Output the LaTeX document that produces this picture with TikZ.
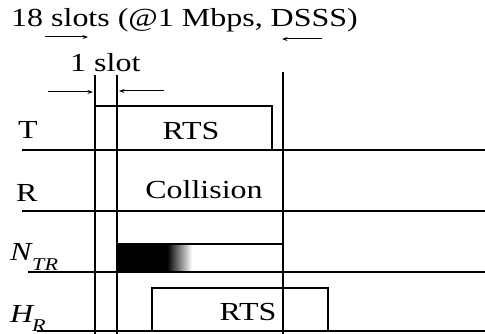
\documentclass[tikz,border=0pt]{standalone}
\usepackage{fontspec}
\setmainfont{Liberation Serif}[FakeStretch=1.23]
\usetikzlibrary{arrows.meta}
\begin{document}
\begin{tikzpicture}[x=1pt,y=-1pt,
  ln/.style={line width=1.1pt},
  arr/.style={line width=1pt,-{Stealth[length=5.5pt,width=4pt]}},
  lbl/.style={inner sep=0pt,anchor=base west,font=\fontsize{26}{30}\selectfont},
  ctr/.style={inner sep=0pt,anchor=base,font=\fontsize{26}{30}\selectfont},
  sub/.style={inner sep=0pt,anchor=base west,font=\fontsize{18}{20}\selectfont\itshape}]
\useasboundingbox (0,0) rectangle (485,334);
% texts
\node[lbl] (title) at (11,27) {18 slots (@1 Mbps, DSSS)};
\node[lbl] (oneslot) at (70,72) {1 slot};
\node[lbl] (lT) at (18,139) {T};
\node[lbl] (lR) at (16,202) {R};
\node[lbl,font=\fontsize{26}{30}\selectfont\itshape] (lN) at (10,260) {N};
\node[sub] (lNs) at (32,270) {TR};
\node[lbl,font=\fontsize{26}{30}\selectfont\itshape] (lH) at (10,322) {H};
\node[sub,text depth=0pt] (lHs) at (32,331) {R};
\node[ctr] (rts1) at (191,140) {RTS};
\node[ctr] (coll) at (204,199) {Collision};
\node[ctr] (rts2) at (248,320) {RTS};
% arrows
\coordinate (a1s) at (45,37); \coordinate (a1e) at (88,37);
\coordinate (a2s) at (322,39); \coordinate (a2e) at (282,39);
\coordinate (a3s) at (48,92); \coordinate (a3e) at (93,92);
\coordinate (a4s) at (164,91); \coordinate (a4e) at (119,91);
\draw[arr] (a1s) -- (a1e);
\draw[arr] (a2s) -- (a2e);
\draw[arr] (a3s) -- (a3e);
\draw[arr] (a4s) -- (a4e);
% N_TR fill
\fill[black] (119,244) rectangle (168,272);
\shade[left color=black,right color=white] (167,244) rectangle (192,272);
% vertical lines
\draw[ln] (95,75) -- (95,334);
\draw[ln] (117,75) -- (117,334);
\draw[ln] (283,72) -- (283,334);
% horizontal lines
\draw[ln] (22,150) -- (485,150);
\draw[ln] (22,211) -- (485,211);
\draw[ln] (28,272) -- (485,272);
\draw[ln] (37,331) -- (485,331);
% boxes
\draw[ln] (95,106) -- (272,106) -- (272,150);
\draw[ln] (119,272) -- (119,244) -- (283,244);
\draw[ln] (152,331) -- (152,288) -- (328,288) -- (328,331);
\end{tikzpicture}
\end{document}
